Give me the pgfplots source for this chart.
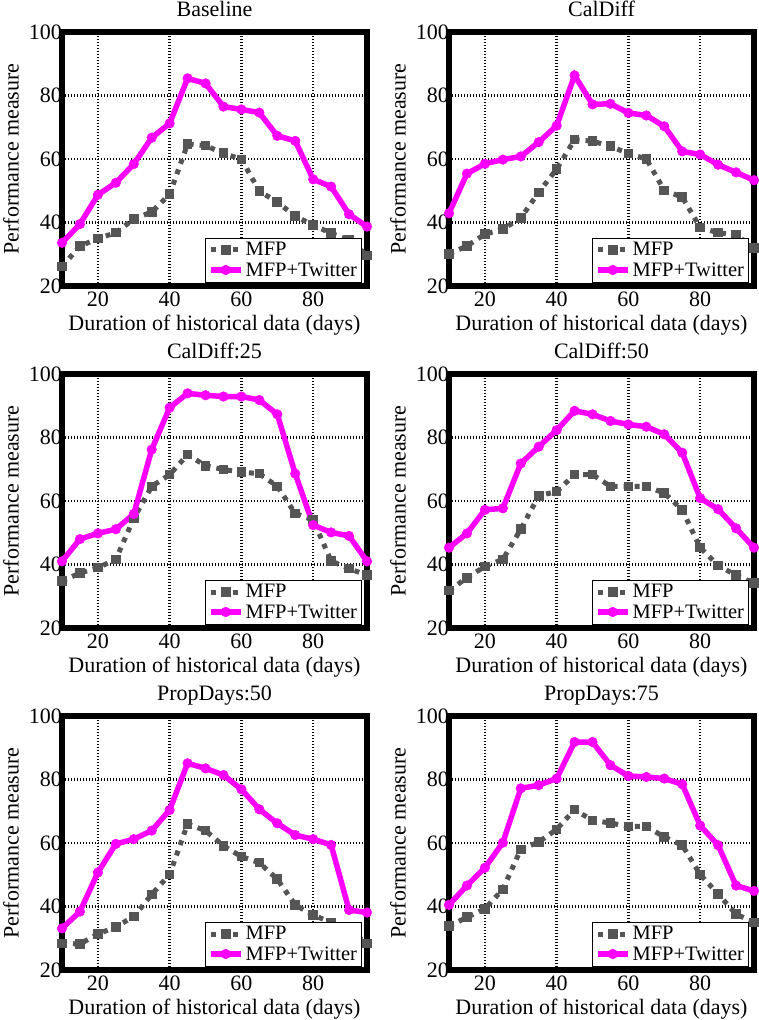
\documentclass[border=0pt]{standalone}
\usepackage{fontspec}
\setmainfont{Liberation Serif}
\usepackage{pgfplots}
\usepackage{pgfplotstable}
\pgfplotsset{compat=1.18}
\definecolor{mfpgray}{RGB}{85,85,85}
\definecolor{twmag}{RGB}{255,0,255}

\pgfplotstableread{
x mfp tw
10 26.1 33.6
15 32.6 39.5
20 34.9 48.7
25 36.8 52.5
30 41.1 58.4
35 43.3 66.7
40 48.9 71.2
45 64.7 85.4
50 64.2 83.8
55 61.8 76.5
60 59.9 75.6
65 49.9 74.6
70 46.4 67.3
75 42.0 65.7
80 39.2 53.6
85 36.6 51.3
90 34.5 42.6
95 29.6 38.7
}\tabA
\pgfplotstableread{
x mfp tw
10 30.1 42.9
15 32.6 55.4
20 36.3 58.5
25 37.9 59.8
30 41.4 60.8
35 49.5 65.3
40 56.8 70.5
45 66.1 86.3
50 65.6 77.2
55 64.0 77.4
60 61.7 74.5
65 60.0 73.7
70 50.1 70.3
75 48.0 62.4
80 38.4 61.4
85 36.8 58.2
90 36.1 55.8
95 31.9 53.3
}\tabB
\pgfplotstableread{
x mfp tw
10 34.8 41.0
15 37.3 48.0
20 39.0 49.8
25 41.6 51.1
30 54.5 55.9
35 64.6 76.2
40 68.3 89.4
45 74.6 93.9
50 71.1 93.3
55 69.9 92.9
60 69.1 92.9
65 68.6 91.8
70 64.6 87.3
75 56.1 68.6
80 54.0 52.4
85 41.1 50.1
90 38.7 49.0
95 36.6 41.0
}\tabC
\pgfplotstableread{
x mfp tw
10 31.8 45.3
15 35.8 49.8
20 39.4 57.2
25 41.6 57.7
30 51.1 71.8
35 61.6 77.1
40 63.0 82.3
45 68.3 88.4
50 68.3 87.3
55 64.6 85.2
60 64.6 84.1
65 64.6 83.4
70 62.5 81.0
75 57.2 75.2
80 45.3 60.9
85 39.7 57.4
90 36.6 51.4
95 34.1 45.3
}\tabD
\pgfplotstableread{
x mfp tw
10 28.4 33.1
15 28.2 38.4
20 31.3 50.7
25 33.6 59.7
30 36.8 61.2
35 43.8 63.9
40 50.1 70.4
45 66.0 85.1
50 63.9 83.5
55 59.1 81.4
60 55.7 76.9
65 53.8 70.6
70 48.6 66.2
75 40.5 62.5
80 37.3 61.2
85 35.0 59.4
90 32.5 38.9
95 28.4 38.1
}\tabE
\pgfplotstableread{
x mfp tw
10 33.8 40.5
15 36.6 46.6
20 39.3 52.2
25 45.4 60.1
30 58.0 77.2
35 60.3 78.2
40 64.3 80.3
45 70.5 91.8
50 67.1 91.8
55 66.3 84.5
60 65.2 81.1
65 65.2 80.8
70 61.9 80.3
75 59.3 78.5
80 50.1 65.5
85 43.9 59.3
90 37.6 46.6
95 35.0 44.9
}\tabF

\pgfplotsset{
  panel/.style={
    scale only axis, width=305pt, height=254pt,
    anchor=north west,
    xmin=10, xmax=95, ymin=20, ymax=100,
    xtick={20,40,60,80}, ytick={20,40,60,80,100},
    clip=false,
    font=\fontsize{22}{26}\selectfont,
    /pgf/number format/assume math mode=true,
    axis line style={line width=6pt, black},
    major tick length=0pt,
    grid=major,
    major grid style={black, line width=2.6pt, dash pattern=on 1.2pt off 1.8pt},
    yticklabel style={anchor=east, inner sep=0pt, xshift=0pt},
    xticklabel style={yshift=-2pt},
    every axis title/.style={at={(axis description cs:0.5,1)}, anchor=base, yshift=15.5pt},
    every axis x label/.style={at={(axis description cs:0.5,0)}, anchor=base, yshift=-45pt},
    every axis y label/.style={at={(axis description cs:-0.167,0.5)}, rotate=90, anchor=center},
    xlabel={Duration of historical data (days)},
    ylabel={Performance measure},
    legend cell align=left,
    legend style={at={(axis description cs:1,0)}, anchor=south east,
      xshift=-5pt, yshift=3.5pt, draw=black, line width=0.9pt, fill=white,
      inner sep=2.5pt, row sep=1pt,
      nodes={inner sep=2pt},
      font=\fontsize{20.5}{23}\selectfont},
    legend image code/.code={\draw[mark repeat=2,mark phase=2,##1] plot coordinates {(0pt,0pt)(15pt,0pt)(30pt,0pt)};},
  },
  mfpstyle/.style={mfpgray, line width=5pt, dash pattern=on 5pt off 6pt,
    mark=square*, mark size=4.3pt, mark options={solid, line width=1pt, fill=mfpgray, draw=mfpgray}},
  twstyle/.style={twmag, line width=5.5pt, solid,
    mark=*, mark size=4.8pt, mark options={solid, line width=0.5pt, fill=twmag, draw=twmag}},
}

\newcommand{\panel}[4]{%
  \begin{axis}[panel, at={(#1,#2)}, title={#3}]
    \addplot[mfpstyle] table[x=x,y=mfp] {#4};
    \addplot[twstyle] table[x=x,y=tw] {#4};
    \legend{MFP,MFP+Twitter}
  \end{axis}}

\begin{document}
\begin{tikzpicture}
\useasboundingbox (0,0) rectangle (759pt,1020pt);
\panel{62pt}{988pt}{Baseline}{\tabA}
\panel{449pt}{988pt}{CalDiff}{\tabB}
\panel{62pt}{646pt}{CalDiff:25}{\tabC}
\panel{449pt}{646pt}{CalDiff:50}{\tabD}
\panel{62pt}{304pt}{PropDays:50}{\tabE}
\panel{449pt}{304pt}{PropDays:75}{\tabF}
\end{tikzpicture}
\end{document}
